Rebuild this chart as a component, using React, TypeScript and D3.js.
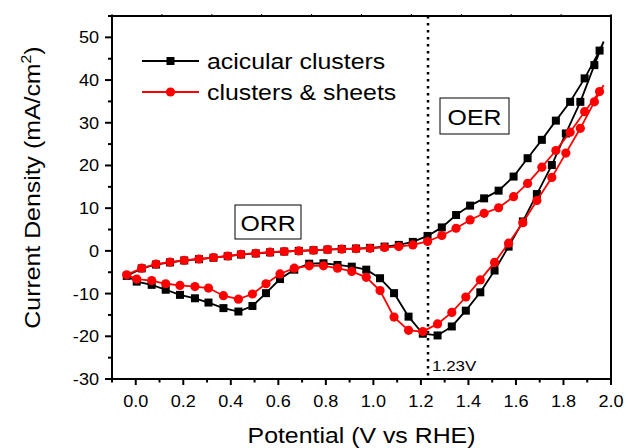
import React from "react";
import * as d3 from "d3";

// Scan potentials (V vs RHE): anodic sweep, vertex, cathodic sweep
const scanPotential = [
  -0.038, 0.025, 0.085, 0.144, 0.204, 0.266, 0.327, 0.387, 0.443, 0.505, 0.565, 0.625,
  0.686, 0.748, 0.807, 0.867, 0.927, 0.986, 1.047, 1.107, 1.166, 1.228, 1.288, 1.348,
  1.407, 1.466, 1.527, 1.59, 1.649, 1.709, 1.768, 1.828, 1.889, 1.952,
  1.969,
  1.93, 1.871, 1.81, 1.751, 1.688, 1.629, 1.569, 1.51, 1.45, 1.389, 1.33, 1.27, 1.208,
  1.148, 1.087, 1.028, 0.97, 0.909, 0.849, 0.79, 0.73, 0.667, 0.607, 0.548, 0.491,
  0.432, 0.369, 0.306, 0.249, 0.186, 0.126, 0.067, 0.004,
];
const vertexIndex = 34;

const acicularCurrent = [
  -5.85, -4.1, -3.2, -2.7, -2.25, -1.95, -1.6, -1.25, -0.85, -0.6, -0.35, -0.15,
  0.0, 0.15, 0.3, 0.45, 0.55, 0.7, 1.0, 1.4, 2.1, 3.5, 5.5, 8.4,
  10.6, 12.3, 14.1, 17.4, 21.7, 26.0, 30.5, 34.9, 40.4, 46.9,
  49.0,
  43.5, 34.9, 27.5, 20.1, 13.3, 6.9, 1.0, -4.6, -9.7, -14.0, -17.7, -19.8, -19.4,
  -15.4, -9.9, -6.4, -4.4, -3.7, -3.3, -2.9, -3.0, -4.4, -6.6, -9.9, -12.9,
  -14.2, -13.4, -12.1, -11.1, -10.3, -9.1, -7.95, -7.2,
];

const sheetsCurrent = [
  -5.6, -4.05, -3.1, -2.65, -2.2, -1.9, -1.55, -1.2, -0.8, -0.55, -0.3, -0.15,
  0.0, 0.15, 0.3, 0.4, 0.5, 0.6, 0.8, 1.0, 1.4, 2.2, 3.6, 5.3,
  7.25, 8.8, 10.1, 12.7, 15.8, 19.6, 23.5, 27.8, 32.6, 37.3,
  38.8,
  34.9, 28.7, 22.9, 17.2, 11.8, 6.6, 1.8, -2.7, -6.8, -10.8, -14.4, -17.1, -18.9,
  -18.6, -15.5, -9.3, -6.2, -4.8, -4.05, -3.5, -3.5, -4.05, -5.4, -7.7, -10.1,
  -11.3, -10.5, -8.7, -8.35, -8.1, -7.7, -6.95, -6.6,
];

const xTicks = [0.0, 0.2, 0.4, 0.6, 0.8, 1.0, 1.2, 1.4, 1.6, 1.8, 2.0];
const xMinorTicks = [-0.1, 0.1, 0.3, 0.5, 0.7, 0.9, 1.1, 1.3, 1.5, 1.7, 1.9];
const yTicks = [-30, -20, -10, 0, 10, 20, 30, 40, 50];
const yMinorTicks = [-25, -15, -5, 5, 15, 25, 35, 45, 55];
const seriesNames = ["acicular clusters", "clusters & sheets"];
const refPotential = 1.23;

const W = 628;
const H = 448;
const FONT = "'Liberation Sans', Arial, sans-serif";
const SX = 1.13;

export default function App() {
  const x = d3.scaleLinear().domain([-0.1, 2.0]).range([112, 611]);
  const y = d3.scaleLinear().domain([-30, 55]).range([379, 16]);
  const [x0, x1] = x.range();
  const [yb, yt] = y.range();

  const line = d3
    .line<[number, number]>()
    .x((d) => x(d[0]))
    .y((d) => y(d[1]))
    .curve(d3.curveLinearClosed);

  const black: [number, number][] = scanPotential.map((p, i) => [p, acicularCurrent[i]]);
  const red: [number, number][] = scanPotential.map((p, i) => [p, sheetsCurrent[i]]);

  const topTicks = d3.range(0, 11).map((k) => x0 + ((x1 - x0) * k) / 10);

  const T = (
    tx: number,
    ty: number,
    s: string | React.ReactNode,
    size: number,
    anchor: "start" | "middle" | "end" = "start",
    rot = 0
  ) => (
    <text
      transform={`translate(${tx},${ty}) ${rot ? `rotate(${rot})` : ""} scale(${SX},1)`}
      fontFamily={FONT}
      fontSize={size}
      textAnchor={anchor}
      fill="#000"
    >
      {s}
    </text>
  );

  return (
    <svg width={W} height={H} style={{ position: "absolute", left: 0, top: 0, background: "#fff" }}>
      <rect x={0} y={0} width={W} height={H} fill="#fff" />

      {/* reference line */}
      <line
        x1={x(refPotential)}
        x2={x(refPotential)}
        y1={yt}
        y2={yb}
        stroke="#000"
        strokeWidth={2.5}
        strokeDasharray="2.5,4.5"
      />

      {/* series */}
      <path d={line(black) || ""} fill="none" stroke="#000" strokeWidth={1.8} />
      {black.map((d, i) =>
        i === vertexIndex ? null : (
          <rect key={"b" + i} x={x(d[0]) - 4} y={y(d[1]) - 4} width={8} height={8} fill="#000" />
        )
      )}
      <path d={line(red) || ""} fill="none" stroke="#ff0000" strokeWidth={1.8} />
      {red.map((d, i) =>
        i === vertexIndex ? null : (
          <circle key={"r" + i} cx={x(d[0])} cy={y(d[1])} r={4.6} fill="#ff0000" />
        )
      )}

      {/* frame */}
      <rect x={x0} y={yt} width={x1 - x0} height={yb - yt} fill="none" stroke="#000" strokeWidth={2} />

      {/* top ticks */}
      {topTicks.map((t, i) => (
        <line key={"tt" + i} x1={t} x2={t} y1={yt} y2={yt - 2} stroke="#000" strokeWidth={1} />
      ))}

      {/* x ticks */}
      {xTicks.map((t) => (
        <g key={"xt" + t}>
          <line x1={x(t)} x2={x(t)} y1={yb} y2={yb + 6} stroke="#000" strokeWidth={2} />
          {T(x(t), 406.5, t.toFixed(1), 16, "middle")}
        </g>
      ))}
      {xMinorTicks.map((t) => (
        <line key={"xm" + t} x1={x(t)} x2={x(t)} y1={yb} y2={yb + 3.5} stroke="#000" strokeWidth={2} />
      ))}

      {/* y ticks */}
      {yTicks.map((t) => (
        <g key={"yt" + t}>
          <line x1={x0} x2={x0 - 7} y1={y(t)} y2={y(t)} stroke="#000" strokeWidth={2} />
          {T(99, y(t) + 6, String(t), 16, "end")}
        </g>
      ))}
      {yMinorTicks.map((t) => (
        <line key={"ym" + t} x1={x0} x2={x0 - 4} y1={y(t)} y2={y(t)} stroke="#000" strokeWidth={2} />
      ))}

      {/* axis titles */}
      {T((x0 + x1) / 2, 443, "Potential (V vs RHE)", 22, "middle")}
      <text
        transform={`translate(40,${(yt + yb) / 2 - 10}) rotate(-90) scale(${SX},1)`}
        fontFamily={FONT}
        fontSize={22}
        textAnchor="middle"
        fill="#000"
      >
        Current Density (mA/cm
        <tspan fontSize={14} dy={-9}>2</tspan>
        <tspan dy={9}>)</tspan>
      </text>

      {/* legend */}
      <line x1={142} x2={199} y1={61} y2={61} stroke="#000" strokeWidth={1.8} />
      <rect x={166.5} y={57} width={8} height={8} fill="#000" />
      {T(207, 69, seriesNames[0], 22)}
      <line x1={142} x2={199} y1={92} y2={92} stroke="#ff0000" strokeWidth={1.8} />
      <circle cx={170.5} cy={92} r={4.6} fill="#ff0000" />
      {T(207, 100, seriesNames[1], 22)}

      {/* annotations */}
      <rect x={235} y={205} width={66} height={34} fill="#fff" stroke="#000" strokeWidth={1} />
      {T(268, 230.5, "ORR", 22, "middle")}
      <rect x={440} y={98} width={69} height={36} fill="#fff" stroke="#000" strokeWidth={1} />
      {T(474.5, 124.5, "OER", 22, "middle")}
      {T(432, 371, "1.23V", 15)}
    </svg>
  );
}
